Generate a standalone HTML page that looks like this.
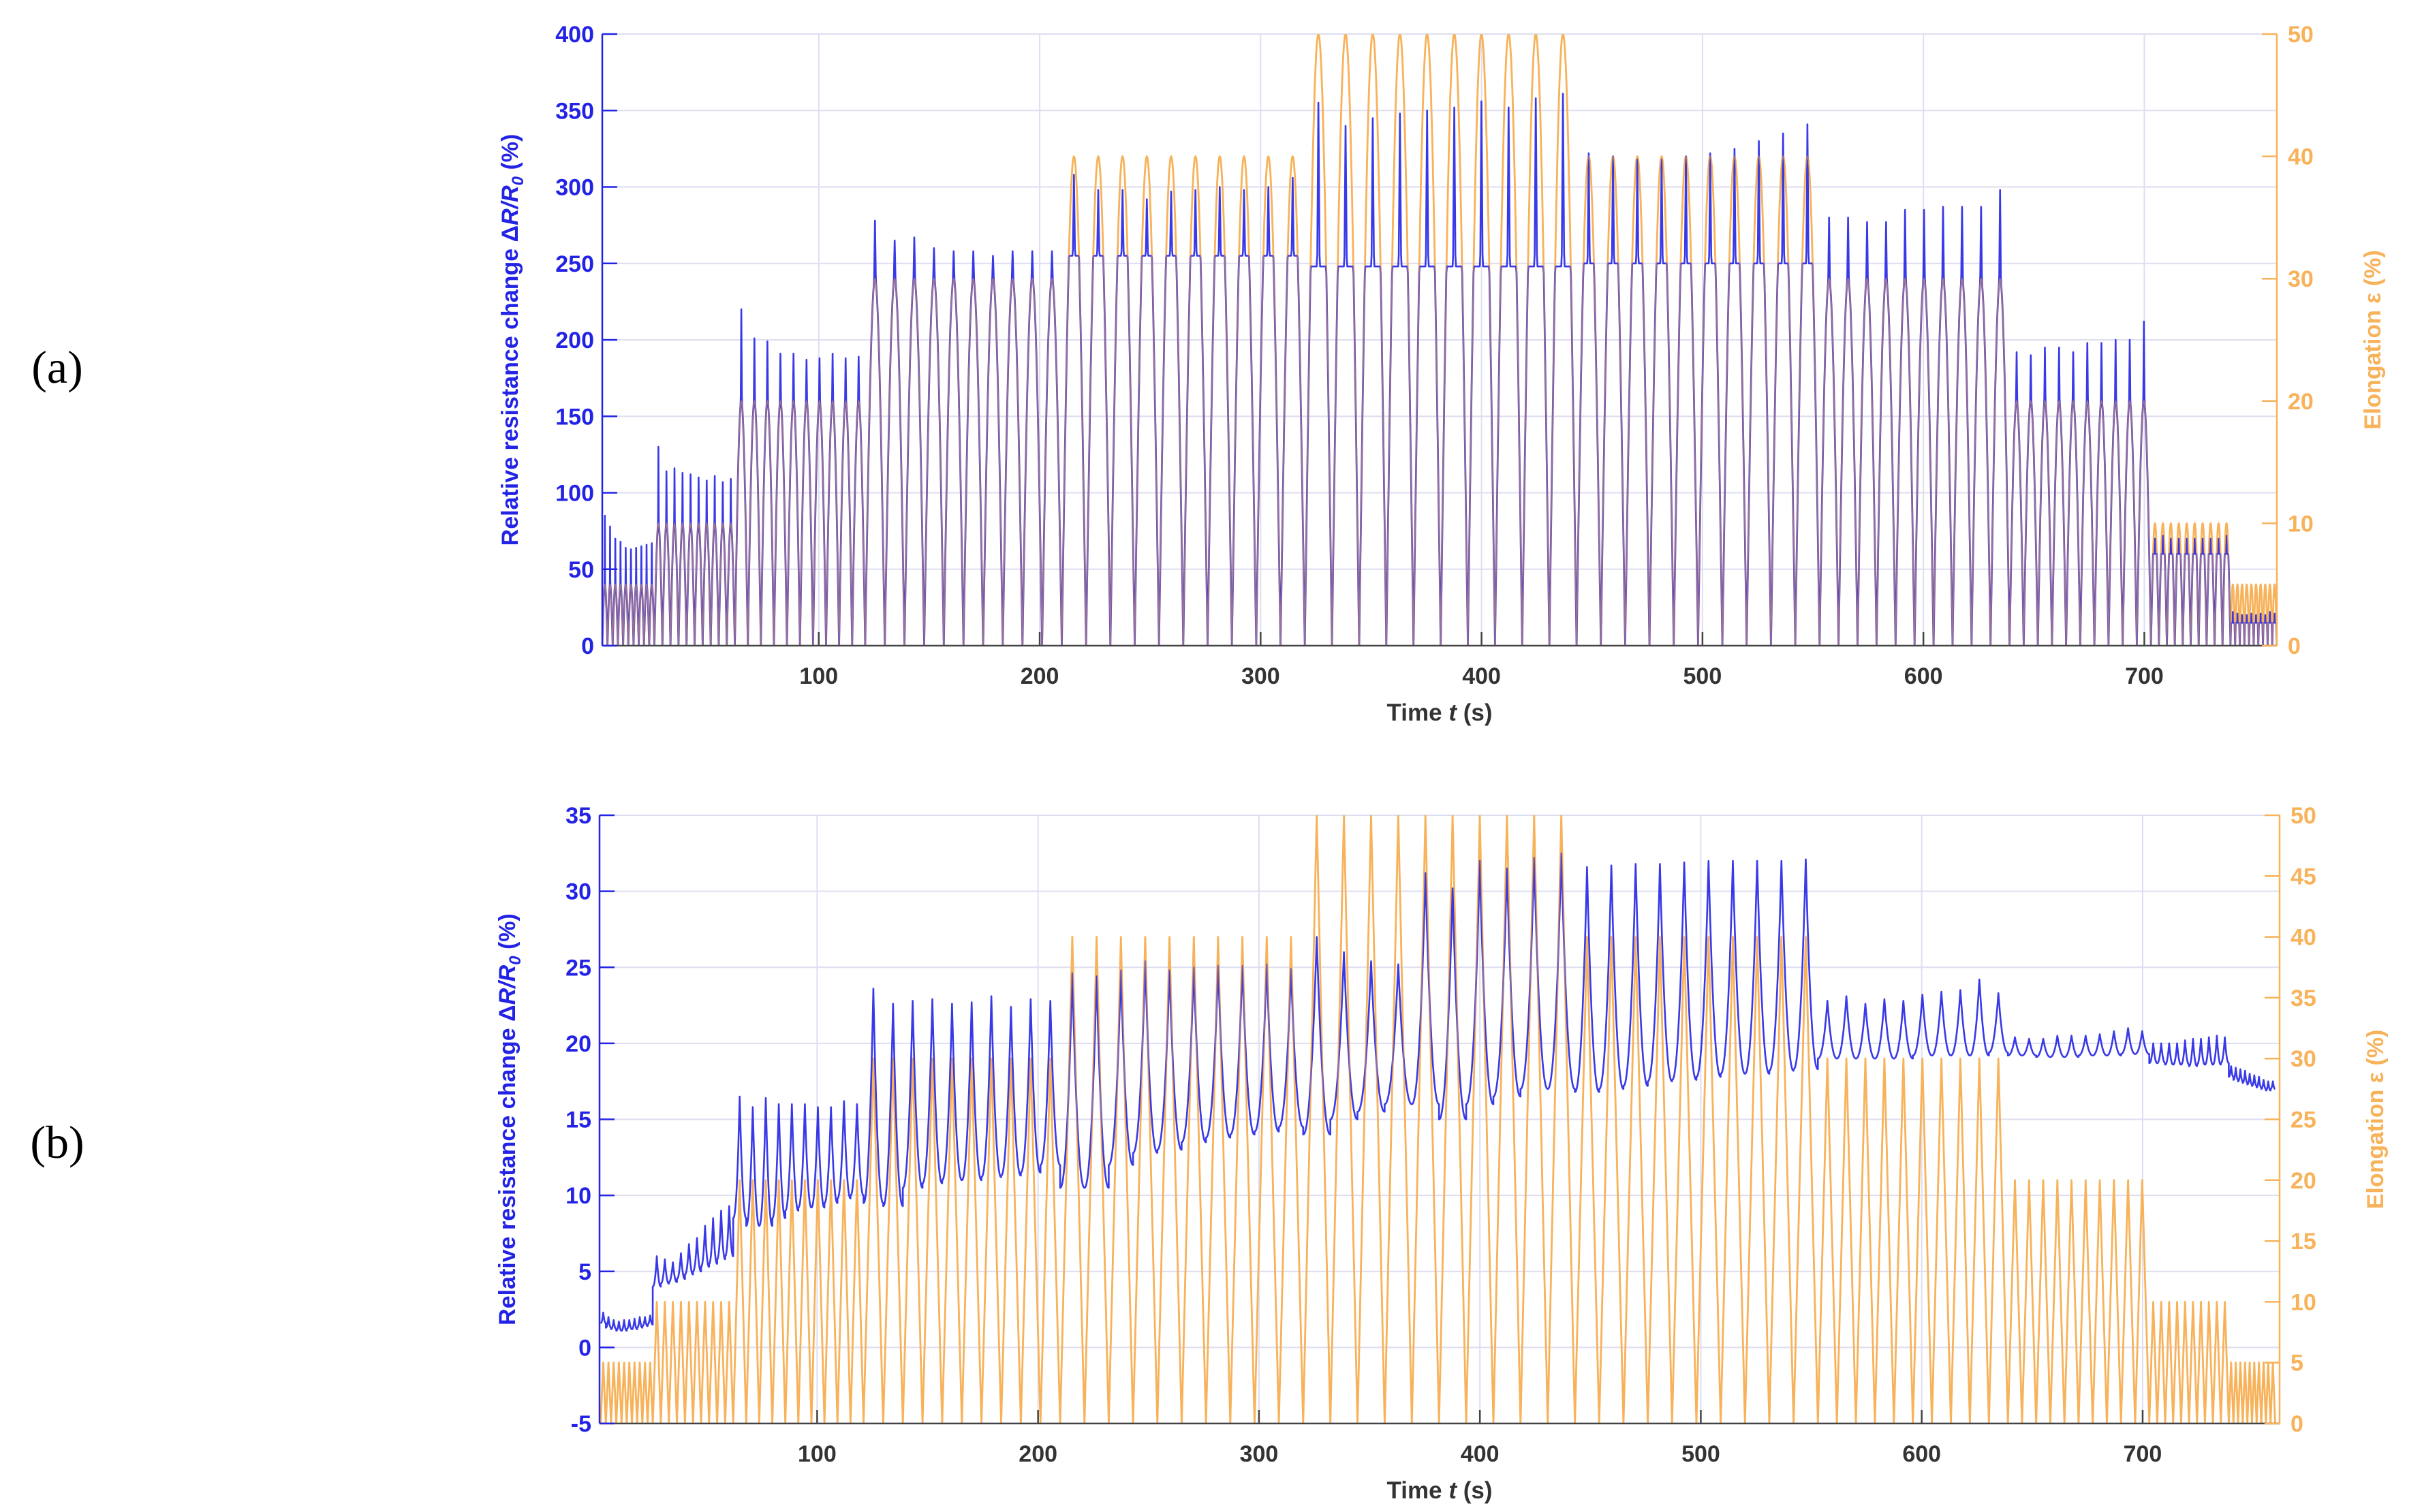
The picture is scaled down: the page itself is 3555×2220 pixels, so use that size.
<!DOCTYPE html>
<html><head><meta charset="utf-8"><style>
html,body{margin:0;padding:0;background:#fff}
svg{display:block;font-family:"Liberation Sans",sans-serif}
</style></head><body>
<svg id="fig" width="3555" height="2220" viewBox="0 0 3555 2220" xmlns="http://www.w3.org/2000/svg">
<defs>
<clipPath id="clipA"><rect x="884" y="50" width="2458" height="898"/></clipPath>
<clipPath id="clipB"><rect x="880" y="1197" width="2466" height="893"/></clipPath>
</defs>
<text x="84" y="562" font-family="Liberation Serif,serif" font-size="68" text-anchor="middle">(a)</text>
<text x="84" y="1700" font-family="Liberation Serif,serif" font-size="68" text-anchor="middle">(b)</text>
<g id="plotA"></g>
<g id="plotB"></g>
</svg>
<script>
// ---- data ----
const blockStart = [2, 25.6, 62, 121, 210, 320, 443, 553, 639, 703, 739];
const blockEnd   = [25.6, 62, 121, 210, 320, 443, 553, 639, 703, 739, 760];
const cycleCount = [10, 10, 10, 10, 10, 10, 10, 10, 10, 10, 10];
const strainAmp  = [5, 10, 20, 30, 40, 50, 40, 30, 20, 10, 5];
const topPlateau = [40, 80, 160, 240, 255, 248, 250, 245, 160, 60, 15];
const topPeaks = [
  [85,78,70,68,64,63,64,65,66,67],
  [130,114,116,113,112,110,108,111,107,109],
  [220,201,199,191,191,187,188,191,188,189],
  [278,265,267,260,258,258,255,258,258,258],
  [308,298,298,292,297,298,300,298,300,306],
  [355,340,345,348,350,352,356,352,358,361],
  [322,320,318,318,320,322,325,330,335,341],
  [285,285,282,282,290,290,292,292,292,303],
  [192,190,195,195,192,198,198,200,200,212],
  [70,72,70,70,70,70,70,70,70,72],
  [22,21,20,20,21,20,21,20,22,21]
];
const botPeaks = [
  [2.3,2,1.8,1.7,1.8,1.8,1.9,2,2,2.1],
  [6,5.8,5.6,6.2,6.8,7.2,8,8.5,9,9.3],
  [16.5,15.8,16.4,16,16,16,15.8,15.8,16.2,16],
  [23.6,22.6,22.8,22.9,22.6,22.7,23.1,22.4,22.9,22.8],
  [24.6,24.4,24.8,25.4,24.8,25,25.1,25.1,25.2,24.9],
  [27,26,25.4,25.2,31.2,30.2,32,31.5,32.2,32.5],
  [31.6,31.7,31.8,31.8,31.9,32,32,32,32,32.1],
  [22.8,23.1,22.6,22.9,22.8,23.2,23.4,23.5,24.2,23.3],
  [20.4,20.3,20.3,20.5,20.5,20.5,20.6,20.8,21,20.8],
  [20,20,20,20,20.2,20.3,20.3,20.4,20.5,20.4],
  [18.5,18.4,18.3,18.2,18,17.9,17.8,17.6,17.5,17.5]
];
const botTroughs = [
  [1.6,1.3,1.2,1.1,1.1,1.2,1.2,1.3,1.4,1.5],
  [4,4.2,4.3,4.5,4.8,5,5.3,5.5,5.8,6],
  [8.5,8,8,8.5,9,9.2,9.2,9.5,9.8,10],
  [9.5,9.3,10.5,10.8,11,11,11.2,11.3,11.5,12],
  [10.5,10.5,12,12.8,13,13.5,13.8,14,14.2,14.5],
  [14,15,15.5,16,16,15,16,16.5,17,17],
  [16.8,17,17.2,17.5,17.6,17.8,18,18,18.2,18.3],
  [19,19,19,19,19,19.2,19.2,19.2,19.2,19.4],
  [19.2,19.2,19.1,19.1,19.1,19.2,19.2,19.2,19.3,19.3],
  [18.7,18.7,18.6,18.6,18.6,18.5,18.6,18.6,18.6,18.7],
  [17.8,17.6,17.5,17.4,17.3,17.2,17.1,17,16.9,17]
];
const xTicks = [100,200,300,400,500,600,700];
const yTicksA = [0,50,100,150,200,250,300,350,400];
const yTicksB = [-5,0,5,10,15,20,25,30,35];
const rTicksA = [0,10,20,30,40,50];
const rTicksB = [0,5,10,15,20,25,30,35,40,45,50];

const NS = "http://www.w3.org/2000/svg";
function mk(tag, attrs, parent, text){
  const e = document.createElementNS(NS, tag);
  for (const k in attrs) e.setAttribute(k, attrs[k]);
  if (text !== undefined) e.textContent = text;
  parent.appendChild(e);
  return e;
}
const BLUE = "#2323e6", ORANGE = "#f7b25a", GRID = "#dedef2";

function drawPlot(g, cfg){
  const {L,R,T,B,xmin,xmax,ymin,ymax,yTicks,rTicks,clip,mode} = cfg;
  const sx = v => L + (v - xmin) / (xmax - xmin) * (R - L);
  const sy = v => B - (v - ymin) / (ymax - ymin) * (B - T);
  const sr = v => B - v / 50 * (B - T);
  const grid = mk("g", {}, g);
  
  
  xTicks.forEach(t => mk("line", {x1:sx(t),x2:sx(t),y1:T,y2:B,stroke:GRID,"stroke-width":2}, grid));
  yTicks.forEach(t => mk("line", {x1:L,x2:R,y1:sy(t),y2:sy(t),stroke:GRID,"stroke-width":2}, grid));
  let od = "", bd = "";
  for (let b = 0; b < blockStart.length; b++){
    const n = cycleCount[b], per = (blockEnd[b] - blockStart[b]) / n, amp = strainAmp[b];
    for (let c = 0; c < n; c++){
      const t0 = blockStart[b] + c * per;
      const S = 48;
      for (let i = 0; i <= S; i++){
        const p = i / S, t = t0 + p * per;
        const tri = 1 - Math.abs(2 * p - 1);
        let e, v;
        if (mode === "a"){
          e = amp * Math.sin(Math.PI * p);
          const plat = topPlateau[b], pk = topPeaks[b][c];
          const raw = 8 * e;
          const base = raw < plat ? raw : plat;
          const d = Math.abs(p - 0.5);
          const spike = d < 0.045 ? (1 - d / 0.045) : 0;
          v = base + (pk - plat) * spike;
        } else {
          e = amp * tri;
          const pk = botPeaks[b][c], tr = botTroughs[b][c];
          const sh = Math.pow(Math.sin(Math.PI * p / 2 + Math.PI / 4 * 0) , 0) * Math.pow(tri, 2.2);
          v = tr + (pk - tr) * sh;
        }
        od += (od ? "L" : "M") + sx(t).toFixed(1) + "," + sr(e).toFixed(1);
        bd += (bd ? "L" : "M") + sx(t).toFixed(1) + "," + sy(v).toFixed(1);
      }
    }
  }
  const sg = mk("g", {"clip-path":"url(#" + clip + ")"}, g);
  const op = mk("path", {d:od, fill:"none", stroke:ORANGE, "stroke-width":2.8, "stroke-linejoin":"round"}, sg);
  
  
  const bp = mk("path", {d:bd, fill:"none", stroke:BLUE, "stroke-width":2.6, "stroke-opacity":0.9, "stroke-linejoin":"round"}, sg);
  
  
  const op2 = mk("path", {d:od, fill:"none", stroke:ORANGE, "stroke-width":1.8, "stroke-opacity":0.5}, sg);
  
  
  const la = mk("line", {x1:L,x2:L,y1:T,y2:B,stroke:BLUE,"stroke-width":2.5}, g);
  
  
  const ra = mk("line", {x1:R,x2:R,y1:T,y2:B,stroke:ORANGE,"stroke-width":2.5}, g);
  
  
  const xa = mk("line", {x1:L,x2:R,y1:B,y2:B,stroke:"#444","stroke-width":2.5}, g);
  
  
  yTicks.forEach(t => {
    mk("line", {x1:L,x2:L+22,y1:sy(t),y2:sy(t),stroke:BLUE,"stroke-width":2.5}, g);
    const tl = mk("text", {x:L-12,y:sy(t)+12,"text-anchor":"end","font-size":34,"font-weight":"bold",fill:BLUE}, g, String(t));
    
    
  });
  rTicks.forEach(t => {
    mk("line", {x1:R-22,x2:R,y1:sr(t),y2:sr(t),stroke:ORANGE,"stroke-width":2.5}, g);
    const tl = mk("text", {x:R+16,y:sr(t)+12,"text-anchor":"start","font-size":34,"font-weight":"bold",fill:ORANGE}, g, String(t));
    
    
  });
  xTicks.forEach(t => {
    mk("line", {x1:sx(t),x2:sx(t),y1:B,y2:B-20,stroke:"#444","stroke-width":2.5}, g);
    const tl = mk("text", {x:sx(t),y:B+56,"text-anchor":"middle","font-size":34,"font-weight":"bold",fill:"#333"}, g, String(t));
    
    
  });
  const xt = mk("text", {x:(L+R)/2,y:B+110,"text-anchor":"middle","font-size":35,"font-weight":"bold",fill:"#333"}, g);
  
  
  mk("tspan", {}, xt, "Time ");
  mk("tspan", {"font-style":"italic"}, xt, "t");
  mk("tspan", {}, xt, " (s)");
  const cy = (T + B) / 2;
  const yt = mk("text", {x:0,y:0,transform:"translate(" + (L-124) + "," + cy + ") rotate(-90)","text-anchor":"middle","font-size":34,"font-weight":"bold",fill:BLUE}, g);
  
  
  mk("tspan", {}, yt, "Relative resistance change \u0394");
  mk("tspan", {"font-style":"italic"}, yt, "R/R");
  mk("tspan", {"font-style":"italic","font-size":24,dy:8}, yt, "0");
  mk("tspan", {dy:-8}, yt, " (%)");
  const rt = mk("text", {x:0,y:0,transform:"translate(" + (R+152) + "," + cy + ") rotate(-90)","text-anchor":"middle","font-size":34,"font-weight":"bold",fill:ORANGE,"xml:space":"preserve"}, g, "Elongation    \u03B5    (%)");
  
  
}
drawPlot(document.getElementById("plotA"), {L:884,R:3342,T:50,B:948,xmin:2,xmax:760,ymin:0,ymax:400,yTicks:yTicksA,rTicks:rTicksA,clip:"clipA",mode:"a"});
drawPlot(document.getElementById("plotB"), {L:880,R:3346,T:1197,B:2090,xmin:1.5,xmax:762,ymin:-5,ymax:35,yTicks:yTicksB,rTicks:rTicksB,clip:"clipB",mode:"b"});
</script>
</body></html>
